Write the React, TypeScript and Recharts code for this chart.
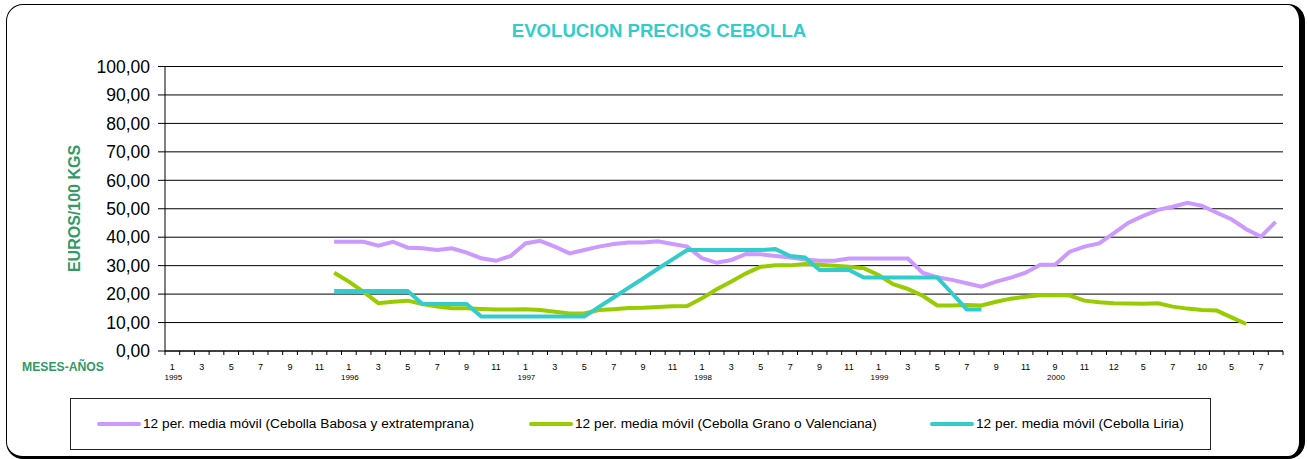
import { CartesianGrid, Line, LineChart, XAxis, YAxis } from "recharts";

// Excel-style moving-average chart, onion prices 1995-2000.

const W = 1307;
const H = 459;
const PLOT_LEFT = 165;
const PLOT_RIGHT = 1283;
const PLOT_TOP = 66.5;
const PLOT_BOTTOM = 351;
const Y_AXIS_W = 90;
const X_AXIS_H = 40;

const FONT = '"Liberation Sans", Arial, sans-serif';
const PURPLE = "#CC99FF";
const GREEN = "#99CC00";
const CYAN = "#33CCCC";
const TITLE_GREEN = "#339966";

const MONTHS = [
  // 1995 .. 1999
  ...["1995", "1996", "1997", "1998", "1999"].flatMap(() =>
    ["1", "2", "3", "4", "5", "6", "7", "8", "9", "10", "11", "12"]
  ),
  // 2000 (the source sheet labels these oddly)
  "9", "10", "11", "12", "12", "1", "5", "6", "7", "8", "10", "11", "5", "6", "7", "8",
];

const YEARS = ["1995", "1996", "1997", "1998", "1999", "2000"];

const Y_TICKS = [0, 10, 20, 30, 40, 50, 60, 70, 80, 90, 100];

const N = null;

// 12 per. media móvil (Cebolla Babosa y extratemprana)
const BABOSA = [
  N, N, N, N, N, N, N, N, N, N, N,
  38.4, 38.4, 38.4, 37.0, 38.4, 36.3, 36.1, 35.5, 36.1, 34.6, 32.6, 31.7, 33.4,
  37.8, 38.7, 36.7, 34.3, 35.5, 36.7, 37.6, 38.1, 38.1, 38.6, 37.6, 36.7,
  32.6, 31.0, 32.0, 34.1, 34.0, 33.4, 32.9, 32.2, 31.7, 31.7, 32.5, 32.5,
  32.5, 32.5, 32.5, 27.5, 25.9, 25.0, 23.8, 22.6, 24.4, 25.8, 27.5, 30.3,
  30.3, 34.9, 36.7, 37.8, 41.4, 45.1, 47.5, 49.6, 50.7, 52.1, 51.0, 48.6,
  46.3, 42.8, 40.2, 45.4,
];

// 12 per. media móvil (Cebolla Grano o Valenciana)
const GRANO = [
  N, N, N, N, N, N, N, N, N, N, N,
  27.5, 24.4, 20.8, 16.8, 17.3, 17.7, 16.5, 15.6, 15.0, 15.0, 14.8, 14.6, 14.6,
  14.7, 14.4, 13.8, 13.2, 13.2, 14.4, 14.7, 15.1, 15.2, 15.5, 15.7, 15.8,
  18.5, 21.7, 24.4, 27.3, 29.6, 30.1, 30.1, 30.6, 30.3, 30.0, 29.6, 29.1,
  26.7, 23.5, 21.8, 19.4, 16.0, 16.0, 16.2, 16.0, 17.3, 18.4, 19.1, 19.6,
  19.7, 19.5, 17.7, 17.1, 16.8, 16.7, 16.6, 16.8, 15.6, 14.9, 14.4, 14.2,
  11.8, 9.5, N, N,
];

// 12 per. media móvil (Cebolla Liria)
const LIRIA = [
  N, N, N, N, N, N, N, N, N, N, N,
  21.1, 21.1, 21.1, 21.1, 21.1, 21.1, 16.5, 16.5, 16.5, 16.5, 12.1, 12.1, 12.1,
  12.1, 12.1, 12.1, 12.1, 12.1, 15.5, 18.8, 22.2, 25.5, 28.9, 32.2, 35.5,
  35.5, 35.5, 35.5, 35.5, 35.5, 35.8, 33.4, 32.9, 28.5, 28.5, 28.5, 25.8,
  25.8, 25.8, 25.8, 25.8, 25.8, 20.3, 14.6, 14.6,
];

const SERIES = [
  { key: "babosa", name: "12 per. media móvil (Cebolla Babosa y extratemprana)", color: PURPLE, values: BABOSA },
  { key: "grano", name: "12 per. media móvil (Cebolla Grano o Valenciana)", color: GREEN, values: GRANO },
  { key: "liria", name: "12 per. media móvil (Cebolla Liria)", color: CYAN, values: LIRIA },
];

const data = MONTHS.map((m, i) => {
  const row: Record<string, string | number | null> = { label: m };
  SERIES.forEach((s) => {
    row[s.key] = s.values[i] ?? null;
  });
  return row;
});

// width of one month slot; points sit in the middle of their slot, like Excel
const STEP = (PLOT_RIGHT - PLOT_LEFT) / MONTHS.length;

function MonthTick(props: any) {
  const { x, y, payload } = props;
  const i: number = payload?.index ?? props.index ?? 0;
  const left = x - STEP / 2;
  return (
    <g>
      <line x1={left} x2={left} y1={y} y2={y + 4} stroke="#000" />
      {i === MONTHS.length - 1 && (
        <line x1={x + STEP / 2} x2={x + STEP / 2} y1={y} y2={y + 4} stroke="#000" />
      )}
      {i % 2 === 0 && (
        <text x={x} y={y + 19} textAnchor="middle" fontSize={9} fill="#000" fontFamily={FONT}>
          {payload.value}
        </text>
      )}
      {i % 12 === 0 && (
        <text x={x + 1} y={y + 29} textAnchor="middle" fontSize={8} fill="#000" fontFamily={FONT}>
          {YEARS[i / 12]}
        </text>
      )}
    </g>
  );
}

const fmt = (v: number) => v.toFixed(2).replace(".", ",");

function LegendBox() {
  const items = [
    { ...SERIES[0], left: 96 },
    { ...SERIES[1], left: 528 },
    { ...SERIES[2], left: 929 },
  ];
  return (
    <div
      style={{
        position: "absolute",
        left: 70,
        top: 398,
        width: 1141,
        height: 52,
        boxSizing: "border-box",
        border: "1px solid #222",
        background: "#fff",
      }}
    >
      {items.map((it) => (
        <div
          key={it.key}
          style={{
            position: "absolute",
            left: it.left - 70,
            top: 17,
            display: "flex",
            alignItems: "center",
            fontFamily: FONT,
            fontSize: 13.7,
            color: "#000",
            whiteSpace: "nowrap",
          }}
        >
          <span
            style={{
              display: "inline-block",
              width: 44,
              height: 4,
              background: it.color,
              borderRadius: 2,
              marginRight: 2,
            }}
          />
          {it.name}
        </div>
      ))}
    </div>
  );
}

export default function App() {
  return (
    <div style={{ position: "absolute", left: 0, top: 0, width: W, height: H, background: "#fff" }}>
      <div
        style={{
          position: "absolute",
          left: 6,
          top: 4,
          width: 1299,
          height: 455,
          boxSizing: "border-box",
          borderStyle: "solid",
          borderColor: "#000",
          borderWidth: "1.5px 6px 3px 1.5px",
          borderRadius: 17,
        }}
      />
      <LineChart
        width={W}
        height={H}
        data={data}
        margin={{
          top: PLOT_TOP,
          right: W - PLOT_RIGHT,
          left: PLOT_LEFT - Y_AXIS_W,
          bottom: H - PLOT_BOTTOM - X_AXIS_H,
        }}
        style={{ position: "absolute", left: 0, top: 0 }}
      >
        <CartesianGrid vertical={false} stroke="#000" strokeWidth={1} />
        <XAxis
          dataKey="label"
          interval={0}
          height={X_AXIS_H}
          padding={{ left: STEP / 2, right: STEP / 2 }}
          tickSize={0}
          tickMargin={0}
          tickLine={false}
          axisLine={{ stroke: "#000" }}
          tick={<MonthTick />}
        />
        <YAxis
          width={Y_AXIS_W}
          domain={[0, 100]}
          ticks={Y_TICKS}
          interval={0}
          tickFormatter={fmt}
          tickSize={7}
          tickMargin={8}
          tickLine={{ stroke: "#000" }}
          axisLine={{ stroke: "#000" }}
          tick={{ fill: "#000", fontSize: 17.5, fontFamily: FONT }}
        />
        {SERIES.map((s) => (
          <Line
            key={s.key}
            type="linear"
            dataKey={s.key}
            name={s.name}
            stroke={s.color}
            strokeWidth={4}
            dot={false}
            activeDot={false}
            connectNulls={false}
            isAnimationActive={false}
          />
        ))}
      </LineChart>
      <svg
        width={W}
        height={H}
        style={{ position: "absolute", left: 0, top: 0, pointerEvents: "none" }}
      >
        <text x={659} y={36.5} textAnchor="middle" fontFamily={FONT} fontWeight="bold" fontSize={18.6} fill={CYAN}>
          EVOLUCION PRECIOS CEBOLLA
        </text>
        <text
          x={0}
          y={0}
          transform="translate(80,208.5) rotate(-90)"
          textAnchor="middle"
          fontFamily={FONT}
          fontWeight="bold"
          fontSize={16}
          fill={TITLE_GREEN}
        >
          EUROS/100 KGS
        </text>
        <text x={22} y={371} fontFamily={FONT} fontWeight="bold" fontSize={12.2} fill={TITLE_GREEN}>
          MESES-AÑOS
        </text>
      </svg>
      <LegendBox />
    </div>
  );
}
